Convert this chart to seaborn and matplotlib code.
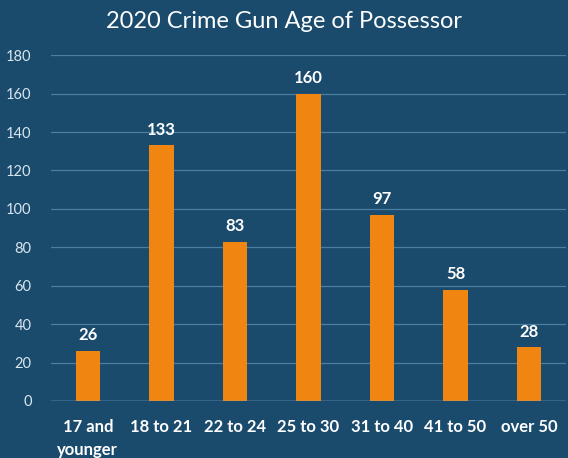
import seaborn as sns
import pandas as pd
import matplotlib.pyplot as plt

categories = ["17 and\nyounger", "18 to 21", "22 to 24", "25 to 30", "31 to 40", "41 to 50", "over 50"]
counts = [26, 133, 83, 160, 97, 58, 28]

bg = "#1a4b6c"
sns.set_theme(style="whitegrid")
plt.rcParams['font.family'] = ['Lato', 'DejaVu Sans']

df = pd.DataFrame({"age": categories, "count": counts})

fig = plt.figure(figsize=(5.68, 4.58), dpi=100, facecolor=bg)
ax = fig.add_axes([0.09, 0.1245, 0.906, 0.755])
ax.set_facecolor(bg)
sns.barplot(data=df, x="age", y="count", color="#f08511", width=0.33, saturation=1,
            linewidth=0, edgecolor="none", ax=ax)

for i, v in enumerate(counts):
    ax.text(i, v + 4, str(v), ha="center", va="bottom", color="white", fontsize=12, fontweight="bold")

ax.set_ylim(0, 180)
ax.set_yticks(range(0, 181, 20))
ax.set_xlim(-0.5, 6.5)
ax.grid(axis="y", color="#4a7ea3", linewidth=0.9)
ax.grid(axis="x", visible=False)
for s in ax.spines.values():
    s.set_visible(False)
ax.axhline(0, color="#8fb3cf", linewidth=1)
ax.set_xlabel("")
ax.set_ylabel("")
ax.tick_params(axis="y", colors="#d8e6f0", labelsize=10.5, length=0, pad=14)
ax.tick_params(axis="x", colors="white", labelsize=12, length=0, pad=13)
for lbl in ax.get_xticklabels():
    lbl.set_fontweight("bold")
    lbl.set_linespacing(1.5)
    lbl.set_verticalalignment("top")

fig.suptitle("2020 Crime Gun Age of Possessor", color="white", fontsize=17, y=0.975)
fig.savefig("out.png", dpi=100, facecolor=bg)
